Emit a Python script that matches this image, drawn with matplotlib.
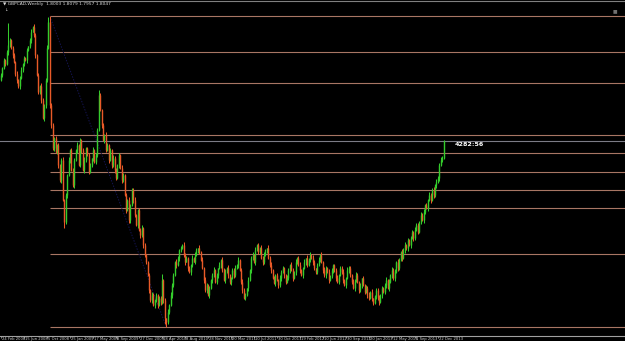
import matplotlib
matplotlib.use('Agg')
import matplotlib.pyplot as plt
import numpy as np

# ---------------- data ----------------
header_text = "\u25bc GBPCAD,Weekly  1.8003 1.8079 1.7957 1.8047"
first_open = 1.902
closes = [
    1.910, 1.921, 1.934, 1.928, 1.947, 1.958, 1.966, 1.953, 1.942, 1.931,
    1.912, 1.902, 1.892, 1.905, 1.918, 1.928, 1.937, 1.934, 1.950, 1.956,
    1.966, 1.979, 1.987, 1.974, 1.942, 1.910, 1.883, 1.892, 1.870, 1.841,
    1.862, 1.902, 1.953, 1.995, 1.862, 1.830, 1.793, 1.809, 1.787, 1.798,
    1.766, 1.742, 1.774, 1.710, 1.675, 1.718, 1.750, 1.774, 1.790, 1.758,
    1.734, 1.774, 1.790, 1.798, 1.766, 1.806, 1.790, 1.758, 1.774, 1.793,
    1.782, 1.755, 1.766, 1.777, 1.790, 1.771, 1.782, 1.822, 1.878, 1.854,
    1.830, 1.806, 1.814, 1.790, 1.798, 1.774, 1.790, 1.766, 1.777, 1.758,
    1.745, 1.766, 1.782, 1.761, 1.742, 1.750, 1.718, 1.694, 1.710, 1.678,
    1.702, 1.726, 1.710, 1.686, 1.670, 1.694, 1.662, 1.654, 1.665, 1.638,
    1.622, 1.611, 1.590, 1.566, 1.550, 1.558, 1.542, 1.550, 1.558, 1.542,
    1.553, 1.547, 1.582, 1.550, 1.521, 1.515, 1.531, 1.542, 1.558, 1.574,
    1.590, 1.611, 1.606, 1.617, 1.630, 1.633, 1.638, 1.622, 1.611, 1.617,
    1.601, 1.595, 1.606, 1.617, 1.611, 1.622, 1.630, 1.633, 1.627, 1.614,
    1.601, 1.582, 1.566, 1.574, 1.558, 1.569, 1.582, 1.590, 1.598, 1.579,
    1.590, 1.601, 1.606, 1.614, 1.598, 1.582, 1.595, 1.601, 1.590, 1.579,
    1.585, 1.598, 1.590, 1.601, 1.606, 1.614, 1.598, 1.579, 1.566, 1.553,
    1.558, 1.569, 1.582, 1.598, 1.617, 1.622, 1.611, 1.630, 1.638, 1.627,
    1.633, 1.617, 1.611, 1.622, 1.630, 1.633, 1.617, 1.606, 1.598, 1.585,
    1.577, 1.590, 1.582, 1.574, 1.585, 1.595, 1.601, 1.590, 1.579, 1.585,
    1.598, 1.606, 1.598, 1.585, 1.595, 1.611, 1.617, 1.606, 1.598, 1.590,
    1.601, 1.611, 1.617, 1.606, 1.614, 1.622, 1.617, 1.611, 1.601, 1.595,
    1.606, 1.614, 1.622, 1.611, 1.598, 1.590, 1.601, 1.595, 1.582, 1.588,
    1.598, 1.606, 1.598, 1.585, 1.579, 1.590, 1.601, 1.595, 1.582, 1.574,
    1.585, 1.598, 1.601, 1.590, 1.579, 1.569, 1.582, 1.590, 1.579, 1.566,
    1.574, 1.585, 1.574, 1.563, 1.569, 1.558, 1.553, 1.563, 1.553, 1.545,
    1.556, 1.566, 1.553, 1.547, 1.558, 1.569, 1.563, 1.574, 1.582, 1.569,
    1.579, 1.590, 1.598, 1.585, 1.595, 1.611, 1.601, 1.614, 1.627, 1.617,
    1.630, 1.638, 1.633, 1.646, 1.638, 1.649, 1.659, 1.649, 1.662, 1.670,
    1.659, 1.675, 1.686, 1.678, 1.691, 1.702, 1.697, 1.710, 1.718, 1.710,
    1.726, 1.718, 1.734, 1.739, 1.745, 1.766, 1.774, 1.777, 1.804,
]
# upper / lower shadow lengths in thousandths, one digit per week
wick_up_digits = [
    "3242353243", "2413524231", "3524314253", "2458934231", "4235242513",
    "3425132452", "2341523483", "2425314253", "3142532415", "2435214352",
    "3124253142", "3492314253", "4253142534", "2315243152", "4253142352",
    "3142534251", "2435241353", "4152342513", "2534215342", "3142534215",
    "4253142352", "2415342531", "3524153242", "4213524351", "2534142532",
    "3142535241", "2435142352", "4253415324", "3524243153", "4253524153",
    "352434532",
]
wick_dn_digits = [
    "2314253142", "3425134252", "2413524352", "4532543524", "5342935241",
    "3524135243", "2413524312", "4253142534", "3142532415", "5243152435",
    "3425342534", "2534983425", "3142532451", "4253142532", "2534152431",
    "3425314253", "5243152342", "3152432514", "4253142352", "2415342531",
    "3524153242", "4253142534", "3142535241", "2534142352", "4253415324",
    "3524243153", "2435142352", "4153425314", "2534152432", "3142532415",
    "243524132",
]
wick_up_override = {5: 0.035}

date_labels = ["24 Feb 2008", "15 Jun 2008", "5 Oct 2008", "25 Jan 2009",
               "17 May 2009", "6 Sep 2009", "27 Dec 2009", "18 Apr 2010",
               "8 Aug 2010", "28 Nov 2010", "20 Mar 2011", "10 Jul 2011",
               "30 Oct 2011", "19 Feb 2012", "10 Jun 2012", "30 Sep 2012",
               "20 Jan 2013", "12 May 2013", "1 Sep 2013", "22 Dec 2013"]
label_step = 16  # weeks between date labels

fib_high, fib_low = 2.004, 1.507
fib_high_bar, fib_low_bar = 34, 115
fib_ratios = [0.0, 0.236, 0.382, 0.441, 0.5, 0.559, 0.618, 0.786, 0.886, 1.0]
bid_price = 1.804
note_text = "4282:56"
note_bar, note_price = 316, 1.798

# ---------------- derived ----------------
closes = np.array(closes)
opens = np.concatenate([[first_open], closes[:-1]])
wu = np.array([int(c) for c in "".join(wick_up_digits)]) / 1000.0
wd = np.array([int(c) for c in "".join(wick_dn_digits)]) / 1000.0
for k, v in wick_up_override.items():
    wu[k] = v
n = len(closes)
wu, wd = wu[:n], wd[:n]
highs = np.maximum(opens, closes) + wu
lows = np.minimum(opens, closes) - wd
x = np.arange(n)
up = closes >= opens

GREEN = '#34cc2c'
RED = '#e85a28'
FIB = '#a87664'

W, H = 625, 341
fig = plt.figure(figsize=(W / 100, H / 100), dpi=100, facecolor='black')
ax = fig.add_axes([0, 5 / H, 1, 335 / H], facecolor='black')

ax.set_xlim(-0.7, 434.2)
ax.set_ylim(1.4924, 2.0284)

# fibonacci levels
for r in fib_ratios:
    p = fib_low + r * (fib_high - fib_low)
    ax.plot([fib_high_bar, 440], [p, p], color=FIB, lw=0.8, zorder=1,
            solid_capstyle='butt')
ax.plot([fib_high_bar, fib_low_bar], [fib_high, fib_low], color='#141450',
        lw=0.7, ls=(0, (1.5, 1.5)), zorder=1)

# bid line
ax.axhline(bid_price, color='#7c7c86', lw=0.8, zorder=1)

# candles
cols = np.where(up, GREEN, RED)
ax.vlines(x, lows, highs, colors=cols, lw=0.75, zorder=3)
ax.vlines(x, np.minimum(opens, closes), np.maximum(opens, closes),
          colors=cols, lw=1.0, zorder=3)

ax.text(note_bar, note_price, note_text, color='white', fontsize=4.6,
        fontweight='bold', va='center', ha='left', zorder=5)

# axes styling
for s in ['left', 'right']:
    ax.spines[s].set_visible(False)
ax.spines['top'].set_color('#808080')
ax.spines['top'].set_linewidth(0.8)
ax.spines['bottom'].set_color('#a0a0a0')
ax.spines['bottom'].set_linewidth(0.8)
ax.set_yticks([])
ticks = np.arange(len(date_labels)) * label_step
ax.set_xticks(ticks)
ax.set_xticklabels([])
ax.tick_params(axis='x', length=1.5, width=0.6, color='#a0a0a0', direction='out')

font_narrow = ['Liberation Sans Narrow', 'DejaVu Sans']
for t, lab in zip(ticks, date_labels):
    ax.text(t + 0.6, -0.004, lab, transform=ax.get_xaxis_transform(),
            color='#d0d0d0', fontsize=2.7, family=font_narrow,
            ha='left', va='top', clip_on=False)

fig.text(3 / W, 1 - 3.5 / H, header_text, color='#d8d8d8', fontsize=3.2,
         family=font_narrow, ha='left', va='center')
fig.text(4 / W, 1 - 10 / H, "\u2193", color='#d8d8d8', fontsize=3.2,
         ha='left', va='center')
fig.text(615 / W, 1 - 11 / H, "\u25a0", color='#707070', fontsize=3.5,
         ha='center', va='center')

fig.savefig('out.png', dpi=100, facecolor='black')
